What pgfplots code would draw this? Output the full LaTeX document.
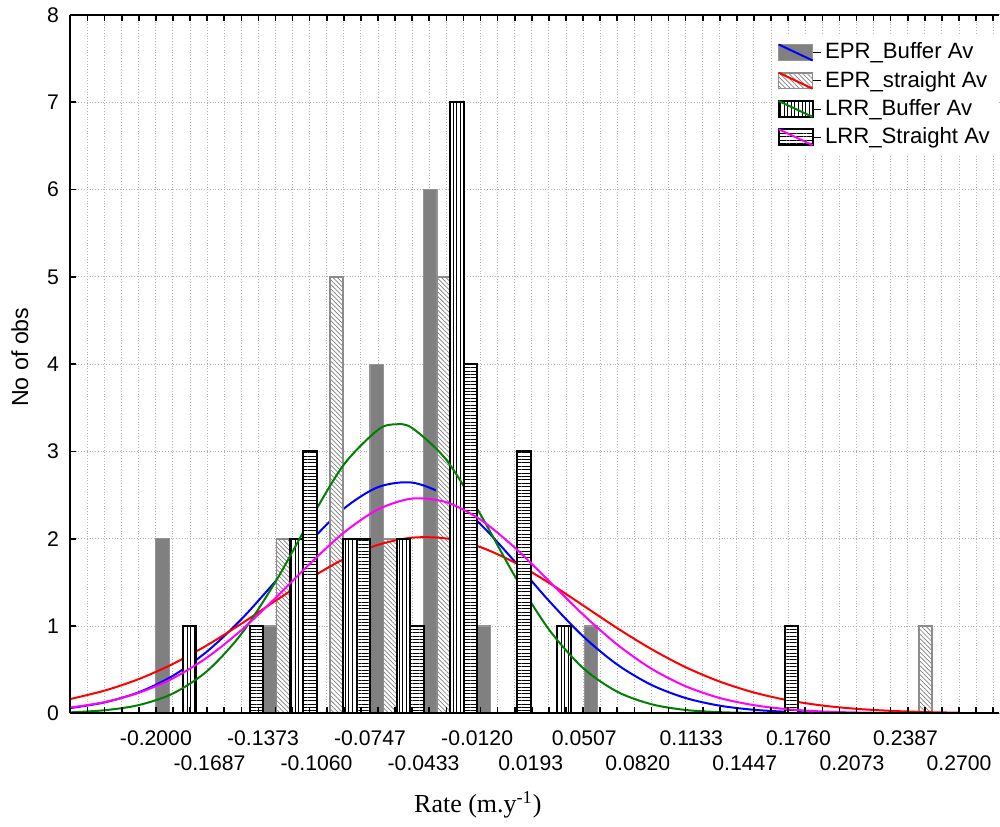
\documentclass[border=0pt]{standalone}
\usepackage{fontspec}
\setmainfont{Liberation Sans}
\newfontfamily\seriffont{Liberation Serif}
\usepackage{pgfplots}
\pgfplotsset{compat=1.18}
\usetikzlibrary{patterns.meta}
\definecolor{mag}{RGB}{255,0,255}
\definecolor{grn}{RGB}{0,128,0}
\tikzset{
  hatchA/.style={fill=white, postaction={pattern={Lines[angle=-45,distance=1.6pt,line width=0.35pt]}, pattern color=black!50}},
  vlines/.style={fill=white, postaction={pattern={Lines[angle=90,distance=1.8pt,line width=0.4pt]}, pattern color=black}},
  hlines/.style={fill=white, postaction={pattern={Lines[angle=0,distance=1.7pt,line width=0.4pt]}, pattern color=black}},
}
\pgfplotsset{
  layers/mylayers/.define layer set={axis background,axis grid,pre main,main,axis ticks,axis lines,axis tick labels,axis descriptions,axis foreground}{},
}
\newcommand{\ra}[1]{\smash{#1}}
\newcommand{\rb}[1]{\smash{\raisebox{-12.5pt}{#1}}}
\begin{document}
\begin{tikzpicture}
\begin{axis}[
  set layers=mylayers,
  scale only axis, width=465pt, height=349.5pt,
  xmin=-0.2503, xmax=0.2934, ymin=0, ymax=8,
  axis x line*=box, axis y line*=left,
  xtick pos=both, ytick pos=left,
  tick align=inside,
  major tick length=3pt,
  xtick={-0.25,-0.24,...,0.295},
  xticklabels={},
  extra x ticks={-0.2,-0.168667,-0.137333,-0.106,-0.074667,-0.043333,-0.012,0.019333,0.050667,0.082,0.113333,0.144667,0.176,0.207333,0.238667,0.27},
  extra x tick labels={\ra{-0.2000},\rb{-0.1687},\ra{-0.1373},\rb{-0.1060},\ra{-0.0747},\rb{-0.0433},\ra{-0.0120},\rb{0.0193},\ra{0.0507},\rb{0.0820},\ra{0.1133},\rb{0.1447},\ra{0.1760},\rb{0.2073},\ra{0.2387},\rb{0.2700}},
  extra x tick style={grid=none, major tick length=0pt, tick label style={anchor=base, yshift=-16.3pt}},
  ytick={0,1,...,8},
  xmajorgrids, ymajorgrids,
  grid style={densely dotted, black!30, line width=0.5pt},
  tick label style={font=\fontsize{10.6}{12}\selectfont},
  yticklabel style={xshift=-2pt},
  /pgf/number format/assume math mode=true,
  axis line style={line width=1pt},
  tick style={line width=0.8pt, black},
  ylabel={No of obs},
  ylabel style={at={(axis description cs:-0.0538,0.51)}, anchor=center, font=\fontsize{11.6}{13}\selectfont},
  xlabel={Rate (m.y\textsuperscript{-1})},
  xlabel style={at={(axis description cs:0.439,-0.131)}, anchor=center, font=\seriffont\fontsize{13}{15}\selectfont},
  legend style={at={(0.757,0.972)}, anchor=north west, draw=none, fill=white,
    font=\fontsize{11.1}{12.5}\selectfont, row sep=0.6pt, inner xsep=2pt, inner ysep=2pt},
  legend cell align=left,
]
% EPR_Buffer Av
\addplot[ybar, bar width=0.0078333, bar shift=0pt, draw=black!42, line width=0.6pt, fill=black!50, forget plot]
  coordinates {(-0.196083,2) (-0.133417,1) (-0.07075,4) (-0.039417,6) (-0.008083,1) (0.054583,1)};
\addplot[blue, line width=1pt, smooth, forget plot] coordinates {
(-0.25,0.060) (-0.23,0.125) (-0.21,0.241) (-0.19,0.430) (-0.17,0.709) (-0.15,1.077) (-0.13,1.512)
(-0.11,1.960) (-0.09,2.345) (-0.07,2.591) (-0.05,2.643) (-0.03,2.490) (-0.01,2.165) (0.01,1.739)
(0.03,1.289) (0.05,0.882) (0.07,0.558) (0.09,0.325) (0.11,0.175) (0.13,0.087) (0.15,0.040)
(0.17,0.017) (0.19,0.007) (0.21,0.002) (0.23,0.001) (0.25,0.000) (0.27,0.000)};
% EPR_straight Av
\addplot[ybar, bar width=0.0078333, bar shift=0pt, draw=black!45, line width=0.8pt, hatchA, forget plot]
  coordinates {(-0.125583,2) (-0.09425,5) (-0.062917,2) (-0.031583,5) (0.250417,1)};
\addplot[red, line width=1pt, smooth, forget plot] coordinates {
(-0.25,0.164) (-0.23,0.260) (-0.21,0.392) (-0.19,0.566) (-0.17,0.780) (-0.15,1.026) (-0.13,1.289)
(-0.11,1.544) (-0.09,1.767) (-0.07,1.930) (-0.05,2.012) (-0.03,2.003) (-0.01,1.903) (0.01,1.727)
(0.03,1.495) (0.05,1.236) (0.07,0.975) (0.09,0.735) (0.11,0.528) (0.13,0.363) (0.15,0.238)
(0.17,0.149) (0.19,0.089) (0.21,0.051) (0.23,0.028) (0.25,0.014) (0.27,0.007)};
% LRR_Buffer Av
\addplot[ybar, bar width=0.0078333, bar shift=0pt, draw=black, line width=1pt, vlines, forget plot]
  coordinates {(-0.180417,1) (-0.11775,2) (-0.086417,2) (-0.055083,2) (-0.02375,7) (0.038917,1)};
\addplot[grn, line width=1pt, smooth, forget plot] coordinates {
(-0.25,0.011) (-0.23,0.035) (-0.21,0.094) (-0.19,0.227) (-0.17,0.484) (-0.15,0.909) (-0.13,1.507)
(-0.11,2.205) (-0.09,2.849) (-0.07,3.248) (-0.06,3.310) (-0.05,3.268) (-0.03,2.903) (-0.01,2.276)
(0.01,1.574) (0.03,0.961) (0.05,0.518) (0.07,0.247) (0.09,0.104) (0.11,0.038) (0.13,0.013)
(0.15,0.004) (0.17,0.001) (0.19,0.000) (0.21,0.000) (0.23,0.000) (0.25,0.000) (0.27,0.000)};
% LRR_Straight Av
\addplot[ybar, bar width=0.0078333, bar shift=0pt, draw=black, line width=1pt, hlines, forget plot]
  coordinates {(-0.14125,1) (-0.109917,3) (-0.078583,2) (-0.04725,1) (-0.015917,4) (0.015417,3) (0.172083,1)};
\addplot[mag, line width=1pt, smooth, forget plot] coordinates {
(-0.25,0.066) (-0.23,0.128) (-0.21,0.235) (-0.19,0.401) (-0.17,0.640) (-0.15,0.952) (-0.13,1.321)
(-0.11,1.711) (-0.09,2.070) (-0.07,2.336) (-0.05,2.460) (-0.03,2.418) (-0.01,2.218) (0.01,1.898)
(0.03,1.517) (0.05,1.131) (0.07,0.787) (0.09,0.511) (0.11,0.310) (0.13,0.175) (0.15,0.093)
(0.17,0.046) (0.19,0.021) (0.21,0.009) (0.23,0.004) (0.25,0.001) (0.27,0.000)};
% legend
\addlegendimage{legend image code/.code={
  \path (0pt,0pt) -- (21pt,0pt);
  \draw[draw=black!42, fill=black!50] (0pt,-4pt) rectangle (17pt,4pt);
  \draw[blue, line width=1pt] (0pt,4pt) -- (17pt,-4pt);}}
\addlegendentry{EPR\_Buffer Av}
\addlegendimage{legend image code/.code={
  \path (0pt,0pt) -- (21pt,0pt);
  \draw[draw=black!45, line width=0.8pt, hatchA] (0pt,-4pt) rectangle (17pt,4pt);
  \draw[red, line width=1pt] (0pt,4pt) -- (17pt,-4pt);}}
\addlegendentry{EPR\_straight Av}
\addlegendimage{legend image code/.code={
  \path (0pt,0pt) -- (21pt,0pt);
  \draw[draw=black, line width=0.9pt, vlines] (0pt,-4pt) rectangle (17pt,4pt);
  \draw[grn, line width=1pt] (0pt,4pt) -- (17pt,-4pt);}}
\addlegendentry{LRR\_Buffer Av}
\addlegendimage{legend image code/.code={
  \path (0pt,0pt) -- (21pt,0pt);
  \draw[draw=black, line width=0.9pt, hlines] (0pt,-4pt) rectangle (17pt,4pt);
  \draw[mag, line width=1pt] (0pt,4pt) -- (17pt,-4pt);}}
\addlegendentry{LRR\_Straight Av}
\end{axis}
% overlay axis: tick marks on the lower and left axis lines
\begin{axis}[
  scale only axis, width=465pt, height=349.5pt,
  xmin=-0.2503, xmax=0.2934, ymin=0, ymax=8,
  axis x line*=bottom, axis y line*=left,
  xtick align=inside, ytick align=inside,
  major tick length=3pt,
  xtick={-0.25,-0.24,...,0.295}, xticklabels={},
  ytick={0,1,...,8}, yticklabels={},
  axis line style={line width=1pt},
  tick style={line width=0.8pt, black},
]
\end{axis}
\path (-35pt,-56.5pt) rectangle (465pt,357pt);
\end{tikzpicture}
\end{document}
